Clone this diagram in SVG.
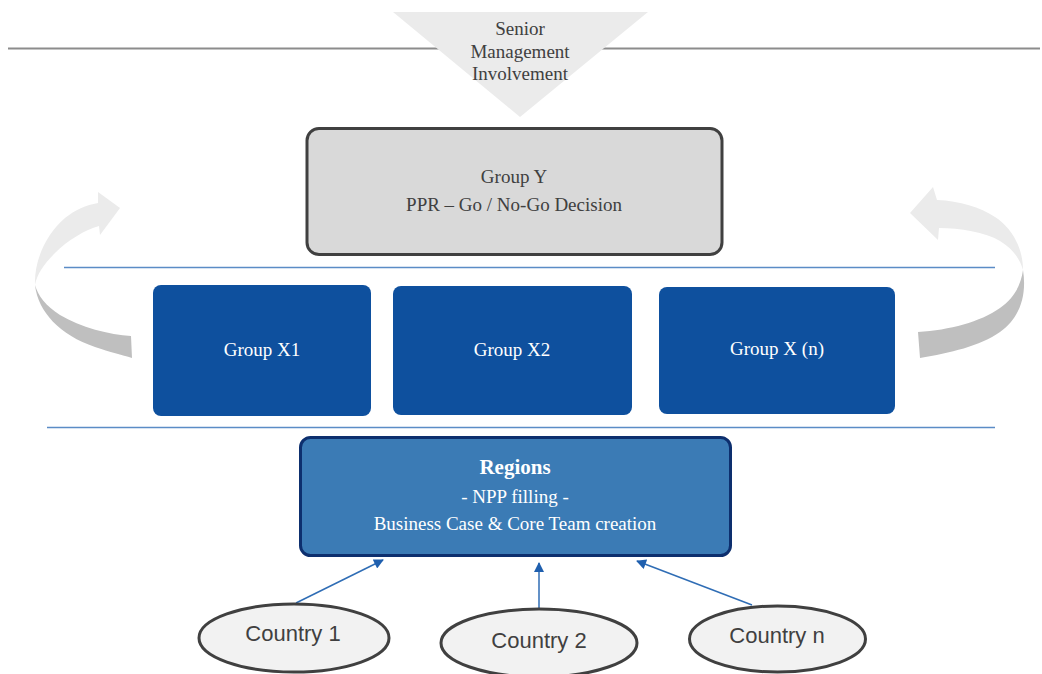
<svg xmlns="http://www.w3.org/2000/svg" width="1042" height="674" viewBox="0 0 1042 674">
  <style>
    .serif { font-family: "Liberation Serif", "Times New Roman", serif; font-size: 19px; text-anchor: middle; }
    .dark { fill: #404040; }
    .light { fill: #ffffff; }
    .title { font-size: 21px; font-weight: bold; }
    .sans { font-family: "Liberation Sans", Arial, sans-serif; font-size: 22px; text-anchor: middle; fill: #404040; }
    .xbox { fill: #0e509e; }
    .country { fill: #f2f2f2; stroke: #404040; stroke-width: 3; }
    .sep { stroke: #5b8cc6; stroke-width: 1.5; fill: none; }
    .link { stroke: #2f6db5; stroke-width: 1.5; fill: none; marker-end: url(#head); }
    .ribbon-top { fill: #ebebeb; }
    .ribbon-side { fill: #bfbfbf; }
  </style>
  <defs>
    <marker id="head" viewBox="0 0 10 10" refX="9" refY="5" markerWidth="11" markerHeight="10" markerUnits="userSpaceOnUse" orient="auto">
      <path d="M0,0 L10,5 L0,10 z" fill="#1f5fae"/>
    </marker>
  </defs>

  <rect width="1042" height="674" fill="#ffffff"/>

  <!-- top rule and senior management funnel -->
  <line x1="8" y1="48.5" x2="1040" y2="48.5" stroke="#8c8c8c" stroke-width="2"/>
  <g id="senior">
    <polygon points="393,12 648,12 520,117" fill="#ebebeb"/>
    <text class="serif dark" x="520" y="35">Senior</text>
    <text class="serif dark" x="520" y="58">Management</text>
    <text class="serif dark" x="520" y="80">Involvement</text>
  </g>

  <!-- feedback ribbons -->
  <g id="loop-left">
    <path class="ribbon-side" d="M35,285 C38,312 60,335 95,347 C110,352 122,355 132,358 L131,336 C110,335 80,327 60,315 C46,306 38,296 35,285 Z"/>
    <path class="ribbon-top" d="M35,285 C34,262 45,235 65,218 C75,210 86,205 98,203 L98,192 L120,208 L100,235 L99,226 C85,230 68,240 55,253 C44,264 37,274 35,285 Z"/>
  </g>
  <g id="loop-right">
    <path class="ribbon-side" d="M1023,270 C1027,295 1020,318 1000,332 C980,346 950,353 920,358 L918,332 C950,330 980,322 1000,308 C1014,298 1021,285 1023,270 Z"/>
    <path class="ribbon-top" d="M1023,270 C1023,248 1012,228 995,217 C980,207 960,201 937,200 L933,187 L910,213 L938,240 L939,228 C960,228 985,232 1000,241 C1013,249 1020,259 1023,270 Z"/>
  </g>

  <!-- level separators -->
  <line class="sep" x1="64" y1="267.5" x2="995" y2="267.5"/>
  <line class="sep" x1="47" y1="427.5" x2="995" y2="427.5"/>

  <g id="group-y">
    <rect x="307" y="128.5" width="415" height="126" rx="12" fill="#d9d9d9" stroke="#404040" stroke-width="3"/>
    <text class="serif dark" x="514" y="183">Group Y</text>
    <text class="serif dark" x="514" y="211">PPR – Go / No-Go Decision</text>
  </g>

  <g id="group-x1">
    <rect class="xbox" x="153" y="285" width="218" height="131" rx="8"/>
    <text class="serif light" x="262" y="356">Group X1</text>
  </g>
  <g id="group-x2">
    <rect class="xbox" x="393" y="286" width="239" height="129" rx="8"/>
    <text class="serif light" x="512" y="356">Group X2</text>
  </g>
  <g id="group-xn">
    <rect class="xbox" x="659" y="287" width="236" height="127" rx="8"/>
    <text class="serif light" x="777" y="355">Group X (n)</text>
  </g>

  <g id="regions">
    <rect x="300.5" y="437.5" width="430" height="118" rx="10" fill="#3b7bb5" stroke="#0d2f6e" stroke-width="3"/>
    <text class="serif light title" x="515" y="474">Regions</text>
    <text class="serif light" x="515" y="503">- NPP filling -</text>
    <text class="serif light" x="515" y="530">Business Case &amp; Core Team creation</text>
  </g>

  <g id="connectors">
    <line class="link" x1="296" y1="603" x2="383" y2="560"/>
    <line class="link" x1="539" y1="609" x2="539" y2="563"/>
    <line class="link" x1="752" y1="605" x2="637" y2="561"/>
  </g>

  <g id="country-1">
    <ellipse class="country" cx="294" cy="638" rx="95" ry="34"/>
    <text class="sans" x="293" y="641">Country 1</text>
  </g>
  <g id="country-2">
    <ellipse class="country" cx="539" cy="643" rx="98" ry="34"/>
    <text class="sans" x="539" y="648">Country 2</text>
  </g>
  <g id="country-n">
    <ellipse class="country" cx="777.5" cy="639" rx="88" ry="33"/>
    <text class="sans" x="777" y="643">Country n</text>
  </g>
</svg>
